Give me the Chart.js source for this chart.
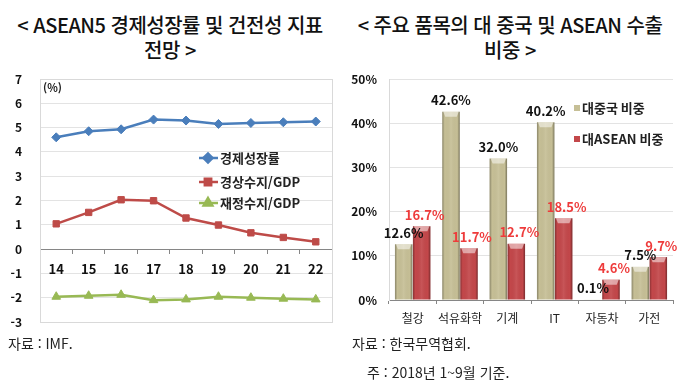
<!DOCTYPE html>
<html lang="ko">
<head>
<meta charset="UTF-8">
<title>ASEAN5 전망 / 대 중국 및 ASEAN 수출 비중</title>
<script src="https://cdn.jsdelivr.net/npm/chart.js@4.4.0/dist/chart.umd.min.js"></script>
<style>
  body { margin: 0; width: 680px; height: 385px; background: #fff; position: relative; overflow: hidden;
         font-family: "Noto Sans CJK KR", "Noto Sans", sans-serif; color: #111; }
  .title { position: absolute; top: 12px; width: 340px; text-align: center; font-size: 20px;
           line-height: 25px; font-weight: 500; letter-spacing: -0.5px; }
  canvas { position: absolute; top: 60px; }
  .note { position: absolute; font-size: 14px; line-height: 20px; color: #222; }
</style>
</head>
<body>
  <div class="title" style="left:0">&lt; ASEAN5 경제성장률 및 건전성 지표<br>전망 &gt;</div>
  <div class="title" style="left:340px">&lt; 주요 품목의 대 중국 및 ASEAN 수출<br>비중 &gt;</div>

  <canvas id="lineChart" width="340" height="280" style="left:0"></canvas>
  <canvas id="barChart" width="340" height="280" style="left:340px"></canvas>

  <div class="note" style="left:8px; top:333px">자료 : IMF.</div>
  <div class="note" style="left:352px; top:333px">자료 : 한국무역협회.</div>
  <div class="note" style="left:367px; top:362px">주 : 2018년 1~9월 기준.</div>

<script>
// left chart: ASEAN5 outlook (%)
const years = ['14', '15', '16', '17', '18', '19', '20', '21', '22'];
const growth = [4.60, 4.85, 4.93, 5.33, 5.29, 5.15, 5.19, 5.22, 5.25];
const currentAccount = [1.04, 1.51, 2.03, 1.99, 1.28, 0.99, 0.67, 0.48, 0.30];
const fiscalBalance = [-1.96, -1.92, -1.88, -2.10, -2.07, -1.96, -2.00, -2.04, -2.07];

// right chart: export share by item (%)
const items = ['철강', '석유화학', '기계', 'IT', '자동차', '가전'];
const shareChina = [12.6, 42.6, 32.0, 40.2, 0.1, 7.5];
const shareAsean = [16.7, 11.7, 12.7, 18.5, 4.6, 9.7];

Chart.defaults.font.family = '"Noto Sans CJK KR", "Noto Sans", sans-serif';
Chart.defaults.color = '#111';

// light box round the plot area
const frame = {
  id: 'frame',
  beforeDatasetsDraw(chart) {
    const a = chart.chartArea, ctx = chart.ctx;
    ctx.save();
    ctx.strokeStyle = '#D9D9D9';
    ctx.lineWidth = 1;
    ctx.strokeRect(Math.round(a.left) + 0.5, Math.round(a.top) + 0.5,
                   Math.round(a.right - a.left), Math.round(a.bottom - a.top));
    ctx.restore();
  }
};

// "(%)" unit and the legend inside the plot
const lineExtras = {
  id: 'lineExtras',
  afterDraw(chart) {
    const ctx = chart.ctx, a = chart.chartArea;
    ctx.save();
    ctx.font = 'bold 11px "Noto Sans CJK KR"';
    ctx.fillStyle = '#222';
    ctx.textBaseline = 'middle';
    ctx.fillText('(%)', a.left + 3, a.top + 9);

    const rows = [98, 122, 143];
    chart.data.datasets.forEach((ds, i) => {
      const y = rows[i], x0 = 199;
      ctx.strokeStyle = ds.borderColor;
      ctx.lineWidth = 2.5;
      ctx.beginPath(); ctx.moveTo(x0, y); ctx.lineTo(x0 + 19, y); ctx.stroke();
      ctx.fillStyle = ds.backgroundColor;
      ctx.strokeStyle = ds.borderColor;
      Chart.helpers.drawPoint(ctx, { pointStyle: ds.pointStyle, radius: ds.pointRadius, borderWidth: 1, rotation: 0 }, x0 + 9, y);
      ctx.fillStyle = '#222';
      ctx.font = 'bold 13px "Noto Sans CJK KR"';
      ctx.textAlign = 'left';
      ctx.fillText(ds.label, x0 + 21, y);
    });
    ctx.restore();
  }
};

new Chart(document.getElementById('lineChart'), {
  type: 'line',
  data: {
    labels: years,
    datasets: [
      { label: '경제성장률', data: growth, borderColor: '#4A7EBB', backgroundColor: '#4A7EBB',
        pointStyle: 'rectRot', pointRadius: 4.5 },
      { label: '경상수지/GDP', data: currentAccount, borderColor: '#BE4B48', backgroundColor: '#BE4B48',
        pointStyle: 'rect', pointRadius: 4.5 },
      { label: '재정수지/GDP', data: fiscalBalance, borderColor: '#98B954', backgroundColor: '#98B954',
        pointStyle: 'triangle', pointRadius: 5 }
    ]
  },
  options: {
    responsive: false,
    animation: false,
    elements: { line: { borderWidth: 2.5, tension: 0 }, point: { borderWidth: 1 } },
    layout: { padding: { top: 19, right: 8, bottom: 18, left: 0 } },
    plugins: { legend: { display: false }, tooltip: { enabled: false } },
    scales: {
      x: {
        position: { y: 0 },
        offset: true,
        grid: { offset: true, drawOnChartArea: false, tickLength: 4, color: '#868686' },
        border: { color: '#868686' },
        ticks: { padding: 8, color: '#111', font: { size: 13, weight: 'bold' } },
        afterFit: s => { s.height = 0; }
      },
      y: {
        min: -3, max: 7,
        ticks: { stepSize: 1, padding: 2, color: '#111', font: { size: 12, weight: 'bold' } },
        grid: { color: '#E3E3E3', tickLength: 16, tickColor: 'rgba(0,0,0,0)' },
        border: { display: false },
        afterFit: s => { s.width = 40; }
      }
    }
  },
  plugins: [frame, lineExtras]
});

// bevel shading, value labels and legend for the bar chart
const barExtras = {
  id: 'barExtras',
  afterDatasetsDraw(chart) {
    const ctx = chart.ctx;
    ctx.save();
    chart.data.datasets.forEach((ds, i) => {
      chart.getDatasetMeta(i).data.forEach(bar => {
        const l = bar.x - bar.width / 2, w = bar.width, t = bar.y, h = bar.base - bar.y;
        if (h < 1) return;
        const g = ctx.createLinearGradient(l, 0, l + w, 0);
        g.addColorStop(0, 'rgba(0,0,0,0.30)');
        g.addColorStop(0.14, 'rgba(0,0,0,0)');
        g.addColorStop(0.5, 'rgba(255,255,255,0.08)');
        g.addColorStop(0.86, 'rgba(0,0,0,0)');
        g.addColorStop(1, 'rgba(0,0,0,0.38)');
        ctx.fillStyle = g;
        ctx.fillRect(l, t, w, h);
        const cap = Math.min(5, h);
        ctx.fillStyle = 'rgba(255,255,255,0.5)';
        ctx.beginPath();
        ctx.moveTo(l + 1, t); ctx.lineTo(l + w - 1, t);
        ctx.lineTo(l + w - 3, t + cap); ctx.lineTo(l + 3, t + cap);
        ctx.closePath(); ctx.fill();
      });
    });

    ctx.font = 'bold 13px "Noto Sans CJK KR"';
    ctx.textAlign = 'center';
    ctx.textBaseline = 'bottom';
    chart.data.datasets.forEach((ds, i) => {
      ctx.fillStyle = ds.labelColor;
      chart.getDatasetMeta(i).data.forEach((bar, j) => {
        ctx.fillText(ds.data[j].toFixed(1) + '%', bar.x + (i === 1 ? 3 : 0), bar.y - 5);
      });
    });

    const rows = [108, 139];
    ctx.textAlign = 'left';
    ctx.textBaseline = 'middle';
    chart.data.datasets.forEach((ds, i) => {
      ctx.fillStyle = ds.backgroundColor;
      ctx.fillRect(574 - 340, rows[i] - 60 - 3, 6, 6);
      ctx.fillStyle = '#222';
      ctx.fillText(ds.label, 582 - 340, rows[i] - 60);
    });
    ctx.restore();
  }
};

new Chart(document.getElementById('barChart'), {
  type: 'bar',
  data: {
    labels: items,
    datasets: [
      { label: '대중국 비중', data: shareChina, backgroundColor: '#C6BF96', labelColor: '#111' },
      { label: '대ASEAN 비중', data: shareAsean, backgroundColor: '#C3474A', labelColor: '#EE3B3B' }
    ]
  },
  options: {
    responsive: false,
    animation: false,
    categoryPercentage: 0.76,
    barPercentage: 0.97,
    layout: { padding: { top: 19, right: 7, bottom: 0, left: 0 } },
    plugins: { legend: { display: false }, tooltip: { enabled: false } },
    scales: {
      x: {
        grid: { offset: true, drawOnChartArea: false, tickLength: 4, color: '#868686' },
        border: { color: '#868686' },
        ticks: { padding: 7, color: '#222', font: { size: 12 }, maxRotation: 0, minRotation: 0, autoSkip: false },
        afterFit: s => { s.height = 40; }
      },
      y: {
        min: 0, max: 50,
        ticks: { stepSize: 10, padding: 2, color: '#111', font: { size: 12, weight: 'bold' },
                 callback: v => v + '%' },
        grid: { color: '#E3E3E3', tickLength: 10, tickColor: 'rgba(0,0,0,0)' },
        border: { color: '#D9D9D9' },
        afterFit: s => { s.width = 49; }
      }
    }
  },
  plugins: [barExtras]
});
</script>
</body>
</html>
